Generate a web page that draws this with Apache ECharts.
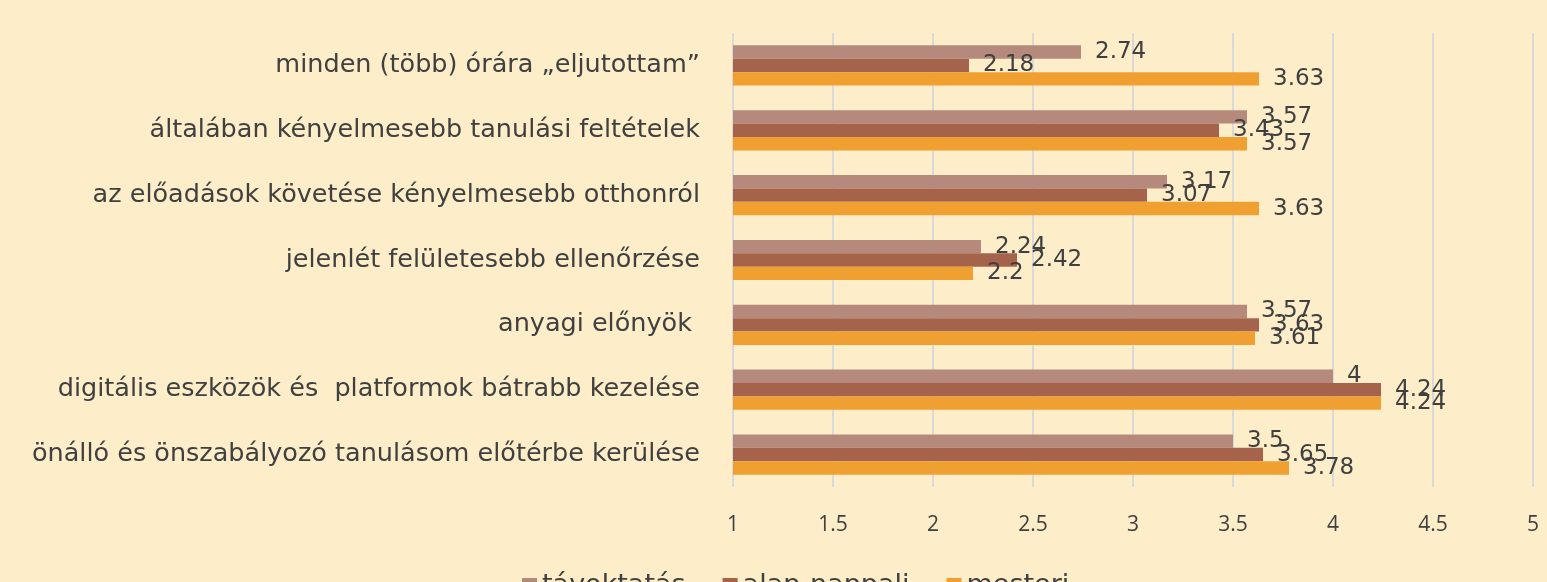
<!DOCTYPE html>
<html>
<head>
<meta charset="utf-8">
<script src="https://cdn.jsdelivr.net/npm/echarts@6/dist/echarts.min.js"></script>
<style>
  html, body { margin: 0; padding: 0; background: #fdeec9; }
  #main { width: 1547px; height: 582px; }
</style>
</head>
<body>
<div id="main"></div>
<script>
// categories, bottom to top (category axis starts at the bottom)
const categories = [
  'önálló és önszabályozó tanulásom előtérbe kerülése',
  'digitális eszközök és  platformok bátrabb kezelése',
  'anyagi előnyök ',
  'jelenlét felületesebb ellenőrzése',
  'az előadások követése kényelmesebb otthonról',
  'általában kényelmesebb tanulási feltételek',
  'minden (több) órára „eljutottam”'
]
const tavoktatas = [3.5, 4, 3.57, 2.24, 3.17, 3.57, 2.74]
const alapNappali = [3.65, 4.24, 3.63, 2.42, 3.07, 3.43, 2.18]
const mesteri = [3.78, 4.24, 3.61, 2.2, 3.63, 3.57, 3.63]
const seriesNames = ['távoktatás', 'alap-nappali', 'mesteri']
const colors = ['#b5897b', '#a5634c', '#f0a030']

const chart = echarts.init(document.getElementById('main'))

const labelStyle = {
  show: true,
  position: 'right',
  distance: 14,
  fontSize: 23,
  color: '#404040',
  fontFamily: 'DejaVu Sans',
}

const mkSeries = (name, data, color) => ({
  name: name,
  type: 'bar',
  data: data,
  itemStyle: { color: color },
  barGap: '0%',
  barCategoryGap: '38%',
  label: labelStyle,
})

chart.setOption({
  backgroundColor: '#fdeec9',
  animation: false,
  textStyle: { fontFamily: 'DejaVu Sans' },
  legend: {
    data: seriesNames,
    top: 567,
    left: 517,
    itemWidth: 15,
    itemHeight: 15,
    itemGap: 37,
    icon: 'rect',
    textStyle: { fontSize: 27, color: '#404040' },
  },
  grid: {
    left: 733,
    right: 14,
    top: 33,
    bottom: 95,
  },
  xAxis: {
    type: 'value',
    min: 1,
    max: 5,
    interval: 0.5,
    axisLine: { show: false },
    axisTick: { show: false },
    axisLabel: { fontSize: 21, color: '#404040', margin: 28, fontFamily: 'Open Sans' },
    splitLine: { lineStyle: { color: '#d9d9d9', width: 2 } },
  },
  yAxis: {
    type: 'category',
    data: categories,
    axisLine: { show: false },
    axisTick: { show: false },
    axisLabel: { fontSize: 25.5, color: '#404040', margin: 33 },
  },
  series: [
    mkSeries(seriesNames[0], tavoktatas, colors[0]),
    mkSeries(seriesNames[1], alapNappali, colors[1]),
    mkSeries(seriesNames[2], mesteri, colors[2]),
  ],
})
</script>
</body>
</html>
